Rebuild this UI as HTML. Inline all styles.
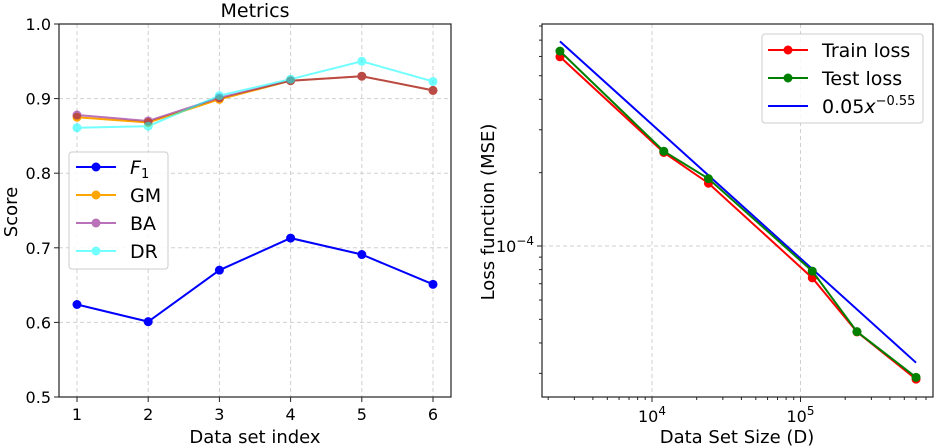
<!DOCTYPE html>
<html><head><meta charset="utf-8"><style>
html,body{margin:0;padding:0;background:#fff;}
svg{display:block;font-family:"DejaVu Sans","Liberation Sans",sans-serif;}
</style></head><body>
<svg id="c" width="935" height="447" viewBox="0 0 935 447" xmlns="http://www.w3.org/2000/svg"></svg>
<script>
const idx = [1,2,3,4,5,6];
const f1 = [0.624,0.601,0.670,0.713,0.691,0.651];
const gm = [0.875,0.868,0.899,0.924,0.930,0.911];
const ba = [0.878,0.870,0.901,0.924,0.930,0.911];
const dr = [0.861,0.863,0.904,0.926,0.950,0.923];
const leftYTicks = [0.5,0.6,0.7,0.8,0.9,1.0];
const sizes = [2400,12000,24000,120000,240000,600000];
const trainLoss = [5.98e-4,2.42e-4,1.81e-4,7.40e-5,4.44e-5,2.84e-5];
const testLoss = [6.31e-4,2.45e-4,1.89e-4,7.89e-5,4.45e-5,2.89e-5];
const fitCoef = 0.05, fitExp = -0.55;

const NS="http://www.w3.org/2000/svg";
const svg=document.getElementById('c');
function el(tag,attrs,parent){const e=document.createElementNS(NS,tag);for(const k in attrs)e.setAttribute(k,attrs[k]);(parent||svg).appendChild(e);return e;}

// ---------- Left chart ----------
const L={x0:59,x1:451,y0:24,y1:397};
const lx=v=>77+(v-1)*(433-77)/5;
const ly=v=>L.y1-(v-0.5)/(0.5)*(L.y1-L.y0);
const gL=el('g',{});


idx.forEach(v=>{const g=el('line',{x1:lx(v),x2:lx(v),y1:L.y0,y2:L.y1,stroke:'#d0d0d0','stroke-dasharray':'4,3','stroke-width':1},gL);
});
leftYTicks.forEach(v=>{const g=el('line',{x1:L.x0,x2:L.x1,y1:ly(v),y2:ly(v),stroke:'#d0d0d0','stroke-dasharray':'4,3','stroke-width':1},gL);
});
function series(vals,color,name,alpha){
  const g=el('g',{opacity:alpha},gL);
  
  el('polyline',{points:vals.map((v,i)=>lx(idx[i])+','+ly(v)).join(' '),fill:'none',stroke:color,'stroke-width':2},g);
  vals.forEach((v,i)=>{const c=el('circle',{cx:lx(idx[i]),cy:ly(v),r:4.5,fill:color},g);
  });
}
series(f1,'#0000ff','f1-series',1);
series(gm,'#ffa500','gm-series',1);
series(ba,'#800080','ba-series',0.55);
series(dr,'#00ffff','dr-series',0.55);
el('rect',{x:L.x0,y:L.y0,width:L.x1-L.x0,height:L.y1-L.y0,fill:'none',stroke:'#222','stroke-width':1.2},gL);
idx.forEach(v=>{el('line',{x1:lx(v),x2:lx(v),y1:L.y1,y2:L.y1+5,stroke:'#222'},gL);
const t=el('text',{x:lx(v),y:L.y1+23,'text-anchor':'middle','font-size':16,fill:'#000'},gL);t.textContent=v;
});
leftYTicks.forEach(v=>{el('line',{x1:L.x0-5,x2:L.x0,y1:ly(v),y2:ly(v),stroke:'#222'},gL);
const t=el('text',{x:L.x0-8,y:ly(v)+6,'text-anchor':'end','font-size':16,fill:'#000'},gL);t.textContent=v.toFixed(1);
});
</script>
<script>
(function(){
const NS="http://www.w3.org/2000/svg";const svg=document.getElementById('c');
function el(tag,attrs){const e=document.createElementNS(NS,tag);for(const k in attrs)e.setAttribute(k,attrs[k]);svg.appendChild(e);return e;}
let t=el('text',{x:255,y:17,'text-anchor':'middle','font-size':19});t.textContent='Metrics';

t=el('text',{x:255,y:443,'text-anchor':'middle','font-size':18});t.textContent='Data set index';

t=el('text',{x:0,y:0,'text-anchor':'middle','font-size':18,transform:'translate(17,212) rotate(-90)'});t.textContent='Score';

const lg=el('rect',{x:69,y:152,width:99,height:117,rx:3,fill:'#fff','fill-opacity':0.85,stroke:'#ccc'});

const items=[['#0000ff',1,'F1'],['#ffa500',1,'GM'],['#800080',0.55,'BA'],['#00ffff',0.55,'DR']];
items.forEach((it,i)=>{const y=167+i*28;
 const g=document.createElementNS(NS,'g');g.setAttribute('opacity',it[1]);svg.appendChild(g);
 
 let l=document.createElementNS(NS,'line');[['x1',76],['x2',116],['y1',y],['y2',y],['stroke',it[0]],['stroke-width',2]].forEach(a=>l.setAttribute(a[0],a[1]));g.appendChild(l);
 let c=document.createElementNS(NS,'circle');[['cx',96],['cy',y],['r',4.5],['fill',it[0]]].forEach(a=>c.setAttribute(a[0],a[1]));g.appendChild(c);
 const tx=el('text',{x:130,y:y+7,'font-size':19});
 if(it[2]==='F1'){tx.innerHTML='<tspan font-style="italic">F</tspan><tspan font-size="13" dy="4">1</tspan>';}else tx.textContent=it[2];
 
});
})();
</script>
<script>
(function(){
const NS="http://www.w3.org/2000/svg";const svg=document.getElementById('c');
function el(tag,attrs,parent){const e=document.createElementNS(NS,tag);for(const k in attrs)e.setAttribute(k,attrs[k]);(parent||svg).appendChild(e);return e;}
const R={x0:542,x1:933,y0:24,y1:397};
const rx=v=>652+(Math.log10(v)-4)*148.5;
const ry=v=>246-(Math.log10(v)+4)*243.6;
const g=el('g',{});

[1e4,1e5].forEach(v=>{const l=el('line',{x1:rx(v),x2:rx(v),y1:R.y0,y2:R.y1,stroke:'#d0d0d0','stroke-dasharray':'4,3'},g);
});
let hl=el('line',{x1:R.x0,x2:R.x1,y1:ry(1e-4),y2:ry(1e-4),stroke:'#d0d0d0','stroke-dasharray':'4,3'},g);

const fx=[sizes[0],sizes[sizes.length-1]];
const fit=el('line',{x1:rx(fx[0]),y1:ry(fitCoef*Math.pow(fx[0],fitExp)),x2:rx(fx[1]),y2:ry(fitCoef*Math.pow(fx[1],fitExp)),stroke:'#0000ff','stroke-width':2},g);

function ser(vals,color,name){const s=el('g',{},g);
 
 el('polyline',{points:vals.map((v,i)=>rx(sizes[i])+','+ry(v)).join(' '),fill:'none',stroke:color,'stroke-width':2},s);
 vals.forEach((v,i)=>{const c=el('circle',{cx:rx(sizes[i]),cy:ry(v),r:4.5,fill:color},s);
 });}
ser(trainLoss,'#ff0000','train-loss-series');
ser(testLoss,'#008000','test-loss-series');
el('rect',{x:R.x0,y:R.y0,width:R.x1-R.x0,height:R.y1-R.y0,fill:'none',stroke:'#222','stroke-width':1.2},g);
for(let d=3;d<=5;d++)for(let m=1;m<10;m++){const v=m*Math.pow(10,d);const x=rx(v);if(x<R.x0||x>R.x1)continue;
 el('line',{x1:x,x2:x,y1:R.y1,y2:R.y1+(m===1?5:3),stroke:'#222'},g);}
[[1e4,'4'],[1e5,'5']].forEach(a=>{const t=el('text',{x:rx(a[0]),y:R.y1+25,'text-anchor':'middle','font-size':16},g);
 t.innerHTML='10<tspan font-size="12" dy="-7">'+a[1]+'</tspan>';});
for(let d=-5;d<=-4;d++)for(let m=1;m<10;m++){const v=m*Math.pow(10,d);const y=ry(v);if(y<R.y0||y>R.y1)continue;
 el('line',{x1:R.x0-(m===1?5:3),x2:R.x0,y1:y,y2:y,stroke:'#222'},g);}
const yt=el('text',{x:R.x0-8,y:ry(1e-4)+6,'text-anchor':'end','font-size':16},g);
yt.innerHTML='10<tspan font-size="12" dy="-7">−4</tspan>';
let t=el('text',{x:737,y:443,'text-anchor':'middle','font-size':18});t.textContent='Data Set Size (D)';

t=el('text',{x:0,y:0,'text-anchor':'middle','font-size':18,transform:'translate(494,212) rotate(-90)'});t.textContent='Loss function (MSE)';

const lg=el('rect',{x:762,y:34,width:161,height:89,rx:3,fill:'#fff','fill-opacity':0.85,stroke:'#ccc'});

[['#ff0000','Train loss',true],['#008000','Test loss',true],['#0000ff','',false]].forEach((it,i)=>{const y=50+i*28;
 const e=el('g',{});
 el('line',{x1:768,x2:808,y1:y,y2:y,stroke:it[0],'stroke-width':2},e);
 if(it[2])el('circle',{cx:788,cy:y,r:4.5,fill:it[0]},e);
 const tx=el('text',{x:822,y:y+7,'font-size':19},e);
 if(it[1])tx.textContent=it[1];else tx.innerHTML='0.05<tspan font-style="italic">x</tspan><tspan font-size="13" dy="-8">−0.55</tspan>';
 });
})();
</script>
</body></html>
